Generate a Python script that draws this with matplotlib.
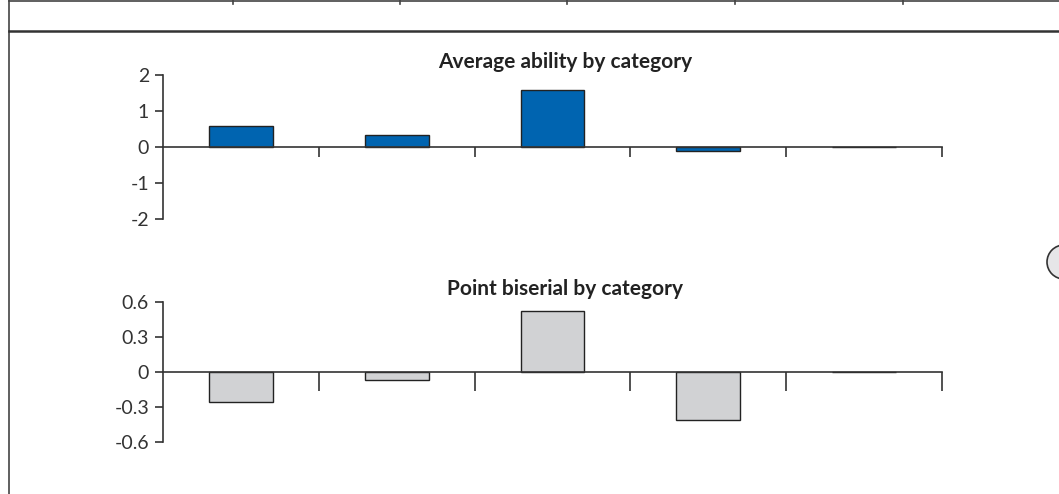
import matplotlib
matplotlib.use("Agg")
import numpy as np
from matplotlib import pyplot as plt
from matplotlib.lines import Line2D
from matplotlib.patches import Circle

# values
categories = ["1", "2", "3", "4", "5"]
ability = [0.58, 0.33, 1.58, -0.12, 0.0]
biserial = [-0.26, -0.07, 0.52, -0.41, 0.0]
ability_ticks = [-2, -1, 0, 1, 2]
biserial_ticks = [-0.6, -0.3, 0, 0.3, 0.6]
biserial_labels = ["-0.6", "-0.3", "0", "0.3", "0.6"]

plt.rcParams['font.family'] = ['Lato', 'DejaVu Sans']

W, H = 1059, 494
fig = plt.figure(figsize=(W / 100, H / 100), dpi=100)

def px(x, y):
    # figure pixel (from top-left) to figure fraction
    return x / W, 1 - y / H

# page frame around the chart
frame = dict(color="#444444", lw=1.2, transform=fig.transFigure)
fig.add_artist(Line2D([px(9, 0)[0], px(9, 0)[0]], [0, 1], **frame))
fig.add_artist(Line2D([px(9, 0)[0], 1], [px(0, 1)[1]] * 2, **frame))
fig.add_artist(Line2D([px(9, 0)[0], 1], [px(0, 31.5)[1]] * 2, color="#333333", lw=1.8,
                      transform=fig.transFigure))
for xd in [233, 400, 567, 735, 903]:
    fig.add_artist(Line2D([xd / W, xd / W], [1, px(0, 4)[1]], **frame))
# round marker sticking in from the right edge
fig.add_artist(Circle((1064 / 100, (H - 262) / 100), 0.17, facecolor="#e6e6e8",
                      edgecolor="#333333", lw=1.2, transform=fig.dpi_scale_trans))


def draw_panel(ax, values, color, ticks, labels, ylim, tick_len):
    x = np.arange(len(values)) + 0.5
    ax.bar(x, values, width=0.41, color=color, edgecolor="#222222", linewidth=1.0, zorder=2)
    ax.set_xlim(0, len(values))
    ax.set_ylim(*ylim)
    for s in ["top", "right"]:
        ax.spines[s].set_visible(False)
    ax.spines["bottom"].set_position(("data", 0))
    for s in ["bottom", "left"]:
        ax.spines[s].set_color("#333333")
        ax.spines[s].set_linewidth(1.2)
        ax.spines[s].set_zorder(3)
    ax.set_xticks(np.arange(1, len(values) + 1))
    ax.set_xticklabels([])
    ax.tick_params(axis="x", direction="out", length=tick_len, width=1.2, color="#333333")
    ax.set_yticks(ticks)
    ax.set_yticklabels(labels)
    ax.tick_params(axis="y", direction="out", length=6, width=1.2, color="#333333",
                   labelsize=14, labelcolor="#333333", pad=4)


ax1 = fig.add_axes([163 / W, 1 - 219 / H, 779 / W, 144 / H])
draw_panel(ax1, ability, "#0064b0", ability_ticks, [str(t) for t in ability_ticks],
           (-2, 2), 7)

ax2 = fig.add_axes([163 / W, 1 - 442 / H, 779 / W, 140.3 / H])
draw_panel(ax2, biserial, "#d1d2d4", biserial_ticks, biserial_labels,
           (-0.6, 0.6), 14)

title_kw = dict(fontsize=15, fontweight="bold", color="#222222", ha="center", va="center")
fig.text(*px(565, 62), "Average ability by category", **title_kw)
fig.text(*px(565, 289), "Point biserial by category", **title_kw)

fig.savefig("out.png", dpi=100)
